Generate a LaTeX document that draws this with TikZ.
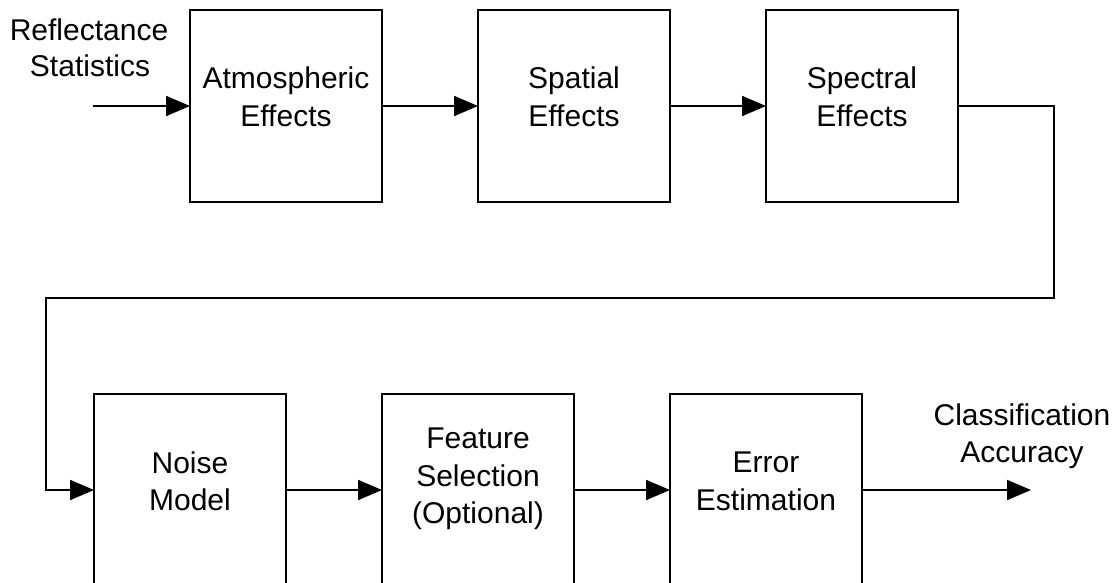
\documentclass[tikz,border=0pt]{standalone}
\usepackage{fontspec}
\setmainfont{Liberation Sans}
\usetikzlibrary{arrows.meta}
\begin{document}
\begin{tikzpicture}[x=1pt,y=-1pt,
  blk/.style={draw,line width=2pt,minimum width=192pt,minimum height=192pt,inner sep=0pt,outer sep=0pt,anchor=north west},
  txt/.style={font=\fontsize{30}{37}\selectfont,anchor=base,inner sep=0pt},
  con/.style={line width=2pt,-{Triangle[length=24pt,width=20pt]}}]
\clip (0,0) rectangle (1118,583);
\fill[white] (0,0) rectangle (1118,583);
% boxes
\node[blk] (atm) at (190,10) {};
\node[blk] (spa) at (478,10) {};
\node[blk] (spe) at (766,10) {};
\node[blk] (noi) at (94,394) {};
\node[blk] (fea) at (382,394) {};
\node[blk] (err) at (670,394) {};
% texts
\node[txt] (r1) at (89,41) {Reflectance};
\node[txt] (r2) at (90,77) {Statistics};
\node[txt] (a1) at (286,89) {Atmospheric};
\node[txt] (a2) at (286,126) {Effects};
\node[txt] (s1) at (574,89) {Spatial};
\node[txt] (s2) at (574,126) {Effects};
\node[txt] (p1) at (862,89) {Spectral};
\node[txt] (p2) at (862,126) {Effects};
\node[txt] (n1) at (190,473) {Noise};
\node[txt] (n2) at (190,510) {Model};
\node[txt] (f1) at (478,448) {Feature};
\node[txt] (f2) at (478,486) {Selection};
\node[txt] (f3) at (478,523) {(Optional)};
\node[txt] (e1) at (766,472) {Error};
\node[txt] (e2) at (766,510) {Estimation};
\node[txt] (c1) at (1022,425) {Classification};
\node[txt] (c2) at (1022,462) {Accuracy};
% connectors
\coordinate (in) at (93,106);
\coordinate (k1) at (1054,298);
\coordinate (k2) at (46,298);
\coordinate (out) at (1031,490);
\draw[con] (in) -- (atm.west);
\draw[con] (atm.east) -- (spa.west);
\draw[con] (spa.east) -- (spe.west);
\draw[con] (spe.east) -| (k1) -- (k2) |- (noi.west);
\draw[con] (noi.east) -- (fea.west);
\draw[con] (fea.east) -- (err.west);
\draw[con] (err.east) -- (out);
\end{tikzpicture}
\end{document}
